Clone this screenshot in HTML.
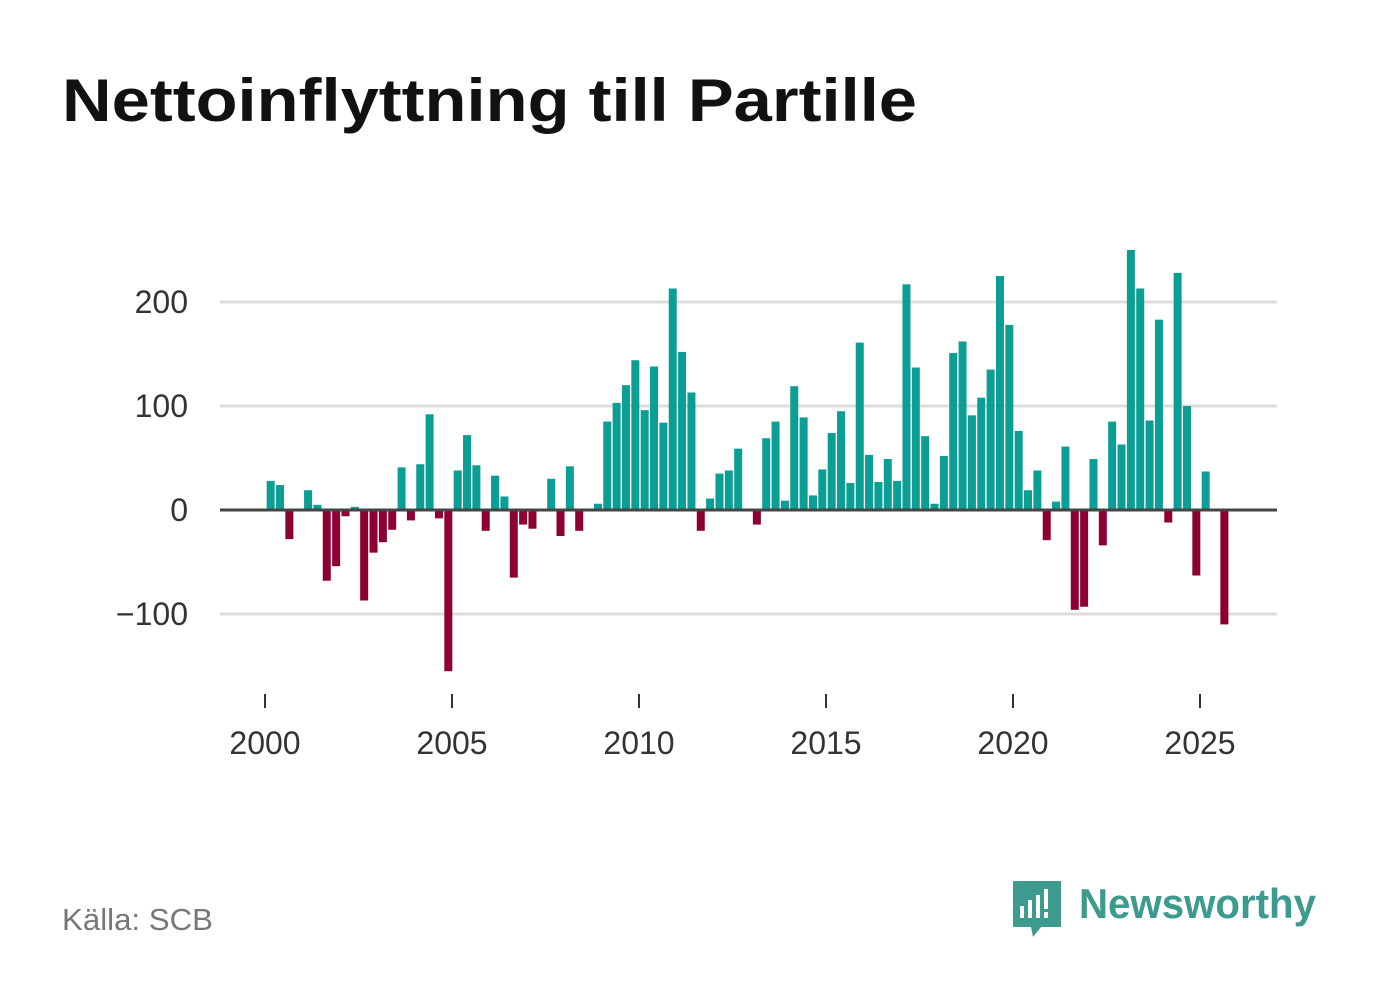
<!DOCTYPE html>
<html><head><meta charset="utf-8"><style>
body{margin:0;background:#fff;width:1382px;height:999px;overflow:hidden;font-family:"Liberation Sans","DejaVu Sans",sans-serif}
</style></head><body>
<svg width="1382" height="999" xmlns="http://www.w3.org/2000/svg">
<text x="62" y="121" font-size="60" font-weight="bold" fill="#111" textLength="855" lengthAdjust="spacingAndGlyphs">Nettoinflyttning till Partille</text>
<g id="grid"></g>
<g id="bars"></g>
<g id="xaxis"></g>
<text x="62" y="930" font-size="31" fill="#777" textLength="151" lengthAdjust="spacingAndGlyphs">Källa: SCB</text>
<g>
<path d="M1013 881 h48 v46 h-20 l-8 10 l-2 -10 h-18 z" fill="#3d9a8f"/>
<rect x="1020" y="906" width="4" height="12" fill="#fff"/>
<rect x="1028" y="900" width="4" height="18" fill="#fff"/>
<rect x="1036" y="895" width="4" height="23" fill="#fff"/>
<rect x="1044" y="889" width="4" height="20" fill="#fff"/>
<rect x="1044" y="912" width="4" height="6" fill="#fff"/>
<text x="1079" y="918" font-size="42" font-weight="bold" fill="#3d9a8f" textLength="237" lengthAdjust="spacingAndGlyphs">Newsworthy</text>
</g>
</svg>
<script>
const values=[28,24,-28,0,19,5,-68,-54,-6,3,-87,-41,-31,-19,41,-10,44,92,-8,-155,38,72,43,-20,33,13,-65,-14,-18,0,30,-25,42,-20,1,6,85,103,120,144,96,138,84,213,152,113,-20,11,35,38,59,0,-14,69,85,9,119,89,14,39,74,95,26,161,53,27,49,28,217,137,71,6,52,151,162,91,108,135,225,178,76,19,38,-29,8,61,-96,-93,49,-34,85,63,250,213,86,183,-12,228,100,-63,37,0,-110];
const startYear=2000;
const yTicks=[-100,0,100,200];
const xTicks=[2000,2005,2010,2015,2020,2025];
const NS="http://www.w3.org/2000/svg";
const y=v=>510-v*1.04;
const xYear=yr=>265+(yr-2000)*37.4;
function mk(t,a,p){const e=document.createElementNS(NS,t);for(const k in a)e.setAttribute(k,a[k]);p.appendChild(e);return e;}
const grid=document.getElementById('grid'),bars=document.getElementById('bars'),xa=document.getElementById('xaxis');
yTicks.forEach(t=>{
  const l=mk('line',{x1:220,x2:1277,y1:y(t),y2:y(t),stroke:'#ddd','stroke-width':3},grid);
  
  
  const tx=mk('text',{x:188,y:y(t)+11,'text-anchor':'end','font-size':32,fill:'#333'},grid);
  tx.textContent=t<0?'\u2212'+Math.abs(t):t;
  
  
});
values.forEach((v,i)=>{
  const cx=xYear(startYear+(i+0.5)/4)+1;
  const r=mk('rect',{x:cx-4,width:8,y:Math.min(y(v),y(0)),height:Math.abs(y(v)-y(0)),fill:v>=0?'#0a9e94':'#8c0033'},bars);
  
  
});
const zl=mk('line',{x1:220,x2:1277,y1:y(0),y2:y(0),stroke:'#444','stroke-width':3},bars);


xTicks.forEach(t=>{
  const l=mk('line',{x1:xYear(t),x2:xYear(t),y1:694,y2:708,stroke:'#333','stroke-width':2},xa);
  
  
  const tx=mk('text',{x:xYear(t),y:754,'text-anchor':'middle','font-size':32,fill:'#333'},xa);
  tx.textContent=t;
  
  
});
</script>
</body></html>
